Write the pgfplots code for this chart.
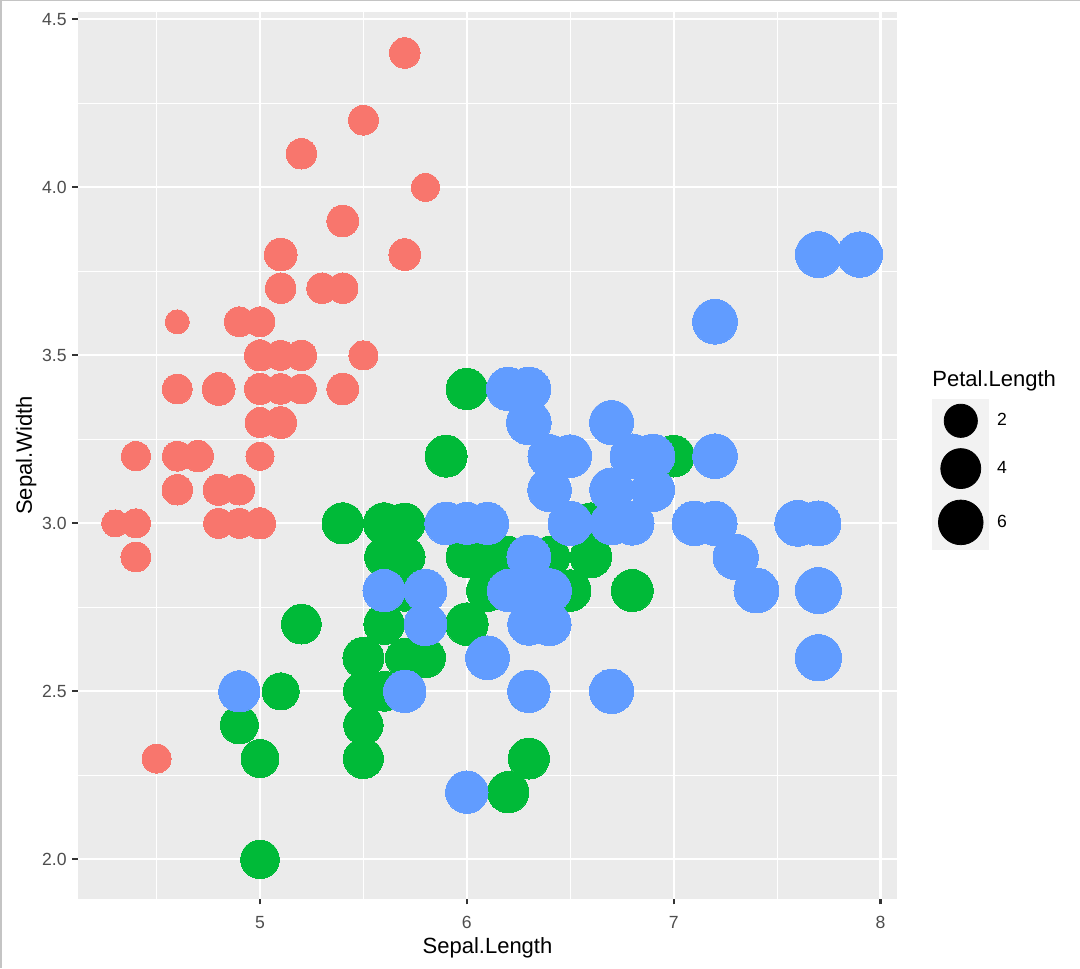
\documentclass[border=0pt]{standalone}
\usepackage{fontspec}
\setmainfont{Liberation Sans}
\usepackage{pgfplots}
\usepackage{pgfplotstable}
\pgfplotsset{compat=1.18}

\definecolor{setosa}{HTML}{F8766D}
\definecolor{versicolor}{HTML}{00BA38}
\definecolor{virginica}{HTML}{619CFF}
\definecolor{panelbg}{HTML}{EBEBEB}
\definecolor{keybg}{HTML}{F2F2F2}
\definecolor{ticklab}{HTML}{4D4D4D}
\definecolor{tickcol}{HTML}{333333}
\definecolor{framegray}{HTML}{C4C4C4}

% iris: Sepal.Length, Sepal.Width, Petal.Length
\pgfplotstableread{
x y pl
5.1 3.5 1.4
4.9 3.0 1.4
4.7 3.2 1.3
4.6 3.1 1.5
5.0 3.6 1.4
5.4 3.9 1.7
4.6 3.4 1.4
5.0 3.4 1.5
4.4 2.9 1.4
4.9 3.1 1.5
5.4 3.7 1.5
4.8 3.4 1.6
4.8 3.0 1.4
4.3 3.0 1.1
5.8 4.0 1.2
5.7 4.4 1.5
5.4 3.9 1.3
5.1 3.5 1.4
5.7 3.8 1.7
5.1 3.8 1.5
5.4 3.4 1.7
5.1 3.7 1.5
4.6 3.6 1.0
5.1 3.3 1.7
4.8 3.4 1.9
5.0 3.0 1.6
5.0 3.4 1.6
5.2 3.5 1.5
5.2 3.4 1.4
4.7 3.2 1.6
4.8 3.1 1.6
5.4 3.4 1.5
5.2 4.1 1.5
5.5 4.2 1.4
4.9 3.1 1.5
5.0 3.2 1.2
5.5 3.5 1.3
4.9 3.6 1.4
4.4 3.0 1.3
5.1 3.4 1.5
5.0 3.5 1.3
4.5 2.3 1.3
4.4 3.2 1.3
5.0 3.5 1.6
5.1 3.8 1.9
4.8 3.0 1.4
5.1 3.8 1.6
4.6 3.2 1.4
5.3 3.7 1.5
5.0 3.3 1.4
}\setosatab

\pgfplotstableread{
x y pl
7.0 3.2 4.7
6.4 3.2 4.5
6.9 3.1 4.9
5.5 2.3 4.0
6.5 2.8 4.6
5.7 2.8 4.5
6.3 3.3 4.7
4.9 2.4 3.3
6.6 2.9 4.6
5.2 2.7 3.9
5.0 2.0 3.5
5.9 3.0 4.2
6.0 2.2 4.0
6.1 2.9 4.7
5.6 2.9 3.6
6.7 3.1 4.4
5.6 3.0 4.5
5.8 2.7 4.1
6.2 2.2 4.5
5.6 2.5 3.9
5.9 3.2 4.8
6.1 2.8 4.0
6.3 2.5 4.9
6.1 2.8 4.7
6.4 2.9 4.3
6.6 3.0 4.4
6.8 2.8 4.8
6.7 3.0 5.0
6.0 2.9 4.5
5.7 2.6 3.5
5.5 2.4 3.8
5.5 2.4 3.7
5.8 2.7 3.9
6.0 2.7 5.1
5.4 3.0 4.5
6.0 3.4 4.5
6.7 3.1 4.7
6.3 2.3 4.4
5.6 3.0 4.1
5.5 2.5 4.0
5.5 2.6 4.4
6.1 3.0 4.6
5.8 2.6 4.0
5.0 2.3 3.3
5.6 2.7 4.2
5.7 3.0 4.2
5.7 2.9 4.2
6.2 2.9 4.3
5.1 2.5 3.0
5.7 2.8 4.1
}\versicolortab

\pgfplotstableread{
x y pl
6.3 3.3 6.0
5.8 2.7 5.1
7.1 3.0 5.9
6.3 2.9 5.6
6.5 3.0 5.8
7.6 3.0 6.6
4.9 2.5 4.5
7.3 2.9 6.3
6.7 2.5 5.8
7.2 3.6 6.1
6.5 3.2 5.1
6.4 2.7 5.3
6.8 3.0 5.5
5.7 2.5 5.0
5.8 2.8 5.1
6.4 3.2 5.3
6.5 3.0 5.5
7.7 3.8 6.7
7.7 2.6 6.9
6.0 2.2 5.0
6.9 3.2 5.7
5.6 2.8 4.9
7.7 2.8 6.7
6.3 2.7 4.9
6.7 3.3 5.7
7.2 3.2 6.0
6.2 2.8 4.8
6.1 3.0 4.9
6.4 2.8 5.6
7.2 3.0 5.8
7.4 2.8 6.1
7.9 3.8 6.4
6.4 2.8 5.6
6.3 2.8 5.1
6.1 2.6 5.6
7.7 3.0 6.1
6.3 3.4 5.6
6.4 3.1 5.5
6.0 3.0 4.8
6.9 3.1 5.4
6.7 3.1 5.6
6.9 3.1 5.1
5.8 2.7 5.1
6.8 3.2 5.9
6.7 3.3 5.7
6.7 3.0 5.2
6.3 2.5 5.0
6.5 3.0 5.2
6.2 3.4 5.4
5.9 3.0 5.1
}\virginicatab

\pgfplotsset{
  iris/.style={scatter, only marks, mark=*, forget plot,
    visualization depends on={6+5.6*sqrt((\thisrow{pl}-1)/5.9) \as \rad},
    scatter/use mapped color={draw=#1, fill=#1, line width=0pt},
    scatter/@pre marker code/.append style={/tikz/mark size=\rad pt}},
}

\begin{document}
\begin{tikzpicture}
\path[use as bounding box] (0,0) rectangle (540pt,484pt);
\fill[framegray] (0,0) rectangle (1pt,484pt);
\fill[framegray] (0,483.4pt) rectangle (540pt,484pt);

\begin{axis}[
  at={(39pt,34.5pt)}, anchor=south west,
  scale only axis, width=409.5pt, height=443.5pt,
  xmin=4.12, xmax=8.08, ymin=1.882, ymax=4.522,
  axis background/.style={fill=panelbg},
  axis line style={draw=none},
  xtick={5,6,7,8},
  ytick={2,2.5,3,3.5,4,4.5},
  minor xtick={4.5,5.5,6.5,7.5},
  minor ytick={2.25,2.75,3.25,3.75,4.25},
  grid=both,
  major grid style={white, line width=1.07pt},
  minor grid style={white, line width=0.53pt},
  tick pos=left, tick align=outside,
  major tick length=2.75pt, minor tick length=0pt,
  tick style={tickcol, line width=1.07pt},
  /pgf/number format/assume math mode=true,
  ticklabel style={font=\fontsize{8.8}{10}\selectfont, text=ticklab, inner sep=0pt},
  xticklabel shift=5.5pt,
  yticklabel shift=2.75pt,
  yticklabel style={/pgf/number format/.cd, fixed, fixed zerofill, precision=1},
  xlabel={Sepal.Length}, ylabel={Sepal.Width},
  label style={font=\fontsize{11}{13}\selectfont, inner sep=0pt},
  xlabel style={at={(axis description cs:0.5,-0.0609)}, anchor=base},
  ylabel style={at={(axis description cs:-0.0562,0.5)}, anchor=base},
  legend style={at={(axis description cs:1.0427,0.5637)}, anchor=north west,
    draw=none, fill=none, inner sep=0pt, row sep=0pt, column sep=2pt,
    font=\fontsize{8.8}{10}\selectfont},
  legend cell align=left,
]
\addplot[iris=setosa] table {\setosatab};
\addplot[iris=versicolor] table {\versicolortab};
\addplot[iris=virginica] table {\virginicatab};

\addlegendimage{legend image code/.code={
  \fill[keybg] (0pt,-10.5pt) rectangle (28pt,10.5pt);
  \fill[black] (14pt,0pt) circle[radius=8.31pt];}}
\addlegendentry{2}
\addlegendimage{legend image code/.code={
  \fill[keybg] (0pt,-13pt) rectangle (28pt,13pt);
  \fill[black] (14pt,0pt) circle[radius=9.99pt];}}
\addlegendentry{4}
\addlegendimage{legend image code/.code={
  \fill[keybg] (0pt,-13.5pt) rectangle (28pt,13.5pt);
  \fill[black] (14pt,0pt) circle[radius=11.16pt];}}
\addlegendentry{6}
\end{axis}

\node[anchor=base west, inner sep=0pt, font=\fontsize{11}{13}\selectfont]
  at (466pt,290.5pt) {Petal.Length};
\end{tikzpicture}
\end{document}
